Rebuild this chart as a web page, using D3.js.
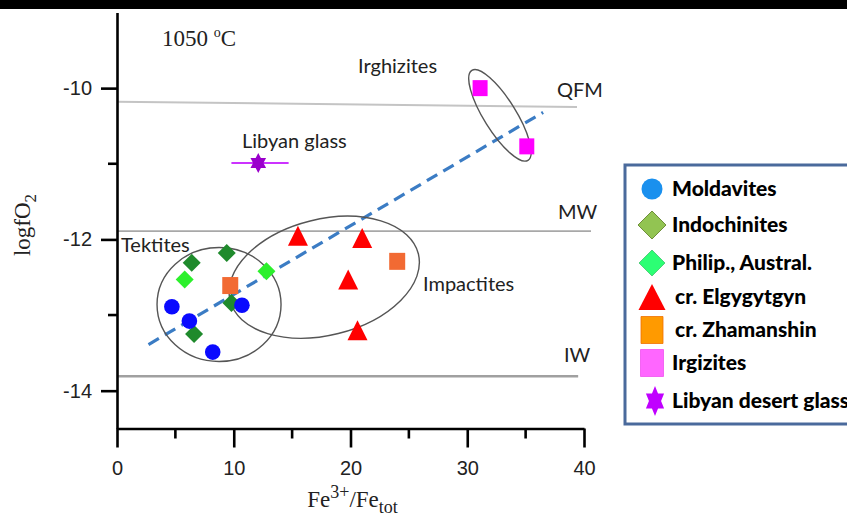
<!DOCTYPE html>
<html>
<head>
<meta charset="utf-8">
<script src="https://cdn.jsdelivr.net/npm/d3@7"></script>
<style>
  body { margin: 0; background: #fff; }
  svg { display: block; }
</style>
</head>
<body>
<svg id="chart" width="847" height="519"></svg>
<script>
// data: [Fe3+/Fetot, logfO2]
const moldavites = [[4.7, -12.89], [6.2, -13.08], [8.2, -13.49], [10.7, -12.87]];
const indochinites = [[6.4, -12.31], [9.4, -12.18], [9.8, -12.84], [6.6, -13.25]];
const philipAustral = [[5.8, -12.53], [12.8, -12.42]];
const elgygytgyn = [[15.5, -11.95], [21.0, -11.98], [19.8, -12.53], [20.6, -13.2]];
const zhamanshin = [[9.7, -12.61], [24.0, -12.29]];
const irgizites = [[31.1, -10.0], [35.1, -10.77]];
// [x, y, xmin, xmax]
const libyanGlass = [[12.1, -10.99, 9.8, 14.7]];

// buffer lines: name, x1, y1, x2, y2
const bufferLines = [
  { name: "QFM", x1: 0, y1: -10.18, x2: 39.4, y2: -10.25, color: "#c4c4c4", w: 2 },
  { name: "MW", x1: 0, y1: -11.89, x2: 40.6, y2: -11.89, color: "#a8a8a8", w: 1.6 },
  { name: "IW", x1: 0, y1: -13.81, x2: 39.5, y2: -13.81, color: "#a0a0a0", w: 2.4 }
];
const trendLine = [[2.7, -13.39], [36.5, -10.32]];

const xTicks = [0, 10, 20, 30, 40];
const xMinor = [5, 15, 25, 35];
const yTicks = [-10, -12, -14];
const yMinor = [-11, -13];

const legendNames = ["Moldavites", "Indochinites", "Philip., Austral.", "cr. Elgygytgyn",
  "cr. Zhamanshin", "Irgizites", "Libyan desert glass"];

const svg = d3.select("#chart");

// black band on top
svg.append("rect").attr("x", 0).attr("y", 0).attr("width", 847).attr("height", 9).attr("fill", "#000");

const x = d3.scaleLinear().domain([0, 40]).range([117, 584]);
const y = d3.scaleLinear().domain([-14.5, -9]).range([428.5, 12.5]);

// reference lines
bufferLines.forEach(l => {
  svg.append("line")
    .attr("x1", x(l.x1)).attr("y1", y(l.y1))
    .attr("x2", x(l.x2)).attr("y2", y(l.y2))
    .attr("stroke", l.color).attr("stroke-width", l.w);
});

// trend line
svg.append("line")
  .attr("x1", x(trendLine[0][0])).attr("y1", y(trendLine[0][1]))
  .attr("x2", x(trendLine[1][0])).attr("y2", y(trendLine[1][1]))
  .attr("stroke", "#3b7cc4").attr("stroke-width", 3.2)
  .attr("stroke-dasharray", "12,7");

// group ellipses (center in data units, radii in px, rotation deg)
const ellipses = [
  { cx: 8.74, cy: -12.86, rx: 62, ry: 57, rot: 0 },
  { cx: 17.75, cy: -12.5, rx: 97, ry: 58, rot: -14 },
  { cx: 32.8, cy: -10.36, rx: 53, ry: 16, rot: 58 }
];
ellipses.forEach(e => {
  svg.append("ellipse")
    .attr("transform", `translate(${x(e.cx)},${y(e.cy)}) rotate(${e.rot})`)
    .attr("rx", e.rx).attr("ry", e.ry)
    .attr("fill", "none").attr("stroke", "#555").attr("stroke-width", 1.4);
});

// shapes
function diamond(r) { return `M0,${-r}L${r},0L0,${r}L${-r},0Z`; }
function triangle(w, h) { return `M0,${-h / 2}L${w / 2},${h / 2}L${-w / 2},${h / 2}Z`; }
function square(w, h) { return `M${-w / 2},${-h / 2}h${w}v${h}h${-w}Z`; }
function hexagram(R, sx) {
  const r = R / Math.sqrt(3);
  const pts = [];
  for (let k = 0; k < 12; k++) {
    const a = (-90 + k * 30) * Math.PI / 180;
    const rr = k % 2 === 0 ? R : r;
    pts.push([Math.cos(a) * rr * sx, Math.sin(a) * rr]);
  }
  return "M" + pts.map(p => p.join(",")).join("L") + "Z";
}

function plotSet(data, d, fill, stroke) {
  svg.append("g").selectAll("path").data(data).join("path")
    .attr("transform", p => `translate(${x(p[0])},${y(p[1])})`)
    .attr("d", d)
    .attr("fill", fill)
    .attr("stroke", stroke || "none");
}

// libyan glass error bar + star
svg.append("g").selectAll("line").data(libyanGlass).join("line")
  .attr("x1", p => x(p[2])).attr("x2", p => x(p[3]))
  .attr("y1", p => y(p[1])).attr("y2", p => y(p[1]))
  .attr("stroke", "#cc33ff").attr("stroke-width", 2);
plotSet(libyanGlass, hexagram(10, 0.9), "#9a00cc");

plotSet(zhamanshin, square(16, 17), "#f26a33");
plotSet(indochinites, diamond(9), "#1f8a2c");
plotSet(philipAustral, diamond(9), "#2cf02c");
svg.append("g").selectAll("circle").data(moldavites).join("circle")
  .attr("cx", p => x(p[0])).attr("cy", p => y(p[1])).attr("r", 7.8)
  .attr("fill", "#0a0aff");
plotSet(elgygytgyn, triangle(20, 20), "#ff0000");
plotSet(irgizites, square(15, 16), "#ff00ff");

// axes
const xAxis = svg.append("g")
  .attr("transform", `translate(0,${y(-14.5)})`)
  .call(d3.axisBottom(x).tickValues(xTicks).tickSize(19).tickSizeOuter(0).tickPadding(13));
xAxis.append("g").selectAll("line").data(xMinor).join("line")
  .attr("x1", d => x(d)).attr("x2", d => x(d)).attr("y1", 0).attr("y2", 10);

const yAxis = svg.append("g")
  .attr("transform", `translate(${x(0)},0)`)
  .call(d3.axisLeft(y).tickValues(yTicks).tickSize(16).tickSizeOuter(0).tickPadding(9)
    .tickFormat(d => (d < 0 ? "-" : "") + Math.abs(d)));
yAxis.append("g").selectAll("line").data(yMinor).join("line")
  .attr("y1", d => y(d)).attr("y2", d => y(d)).attr("x1", 0).attr("x2", -9);

[xAxis, yAxis].forEach(a => {
  a.selectAll("path, line").attr("stroke", "#000").attr("stroke-width", 2.6);
  a.selectAll("text").attr("fill", "#222")
    .style("font-family", "'Liberation Sans', Arial, sans-serif").style("font-size", "20px");
});

// axis titles
svg.append("text")
  .attr("x", x(20) + 2).attr("y", 507)
  .attr("text-anchor", "middle")
  .style("font-family", "'Liberation Serif', serif").style("font-size", "23px").attr("fill", "#222")
  .html('Fe<tspan dy="-9" font-size="18">3+</tspan><tspan dy="9">/Fe</tspan><tspan dy="6" font-size="18">tot</tspan>');

svg.append("text")
  .attr("transform", `translate(30,225) rotate(-90)`)
  .attr("text-anchor", "middle")
  .style("font-family", "'Liberation Serif', serif").style("font-size", "23px").attr("fill", "#222")
  .html('logfO<tspan dy="6" font-size="17">2</tspan>');

svg.append("text")
  .attr("x", 162).attr("y", 46)
  .style("font-family", "'Liberation Serif', serif").style("font-size", "23px").attr("fill", "#222")
  .html('1050 <tspan dy="-9" font-size="14">o</tspan><tspan dy="9">C</tspan>');

// annotations
const notes = [
  { t: "Irghizites", x: 358, y: 73 },
  { t: "Libyan glass", x: 242, y: 148 },
  { t: "Tektites", x: 121, y: 252 },
  { t: "Impactites", x: 423, y: 291 },
  { t: "QFM", x: 557, y: 97 },
  { t: "MW", x: 558, y: 219 },
  { t: "IW", x: 564, y: 362 }
];
svg.append("g").selectAll("text").data(notes).join("text")
  .attr("x", d => d.x).attr("y", d => d.y)
  .style("font-family", "Lato, 'Open Sans', sans-serif").style("font-size", "20px")
  .attr("fill", "#222")
  .text(d => d.t);

// legend
svg.append("rect")
  .attr("x", 625).attr("y", 165).attr("width", 240).attr("height", 259)
  .attr("fill", "#fff").attr("stroke", "#4a6a9c").attr("stroke-width", 3);

const legendRows = [189, 225, 263, 297, 330, 363, 401];
const lg = svg.append("g");
lg.append("circle").attr("cx", 652).attr("cy", legendRows[0]).attr("r", 10.5).attr("fill", "#1a90ee");
lg.append("path").attr("transform", `translate(652,${legendRows[1]})`).attr("d", diamond(14))
  .attr("fill", "#92c452").attr("stroke", "#6f8f3a");
lg.append("path").attr("transform", `translate(652,${legendRows[2]})`).attr("d", diamond(13))
  .attr("fill", "#2cff74").attr("stroke", "#22b050").attr("stroke-width", 0.6);
lg.append("path").attr("transform", `translate(652,${legendRows[3]})`).attr("d", triangle(27, 26))
  .attr("fill", "#ff0000");
lg.append("path").attr("transform", `translate(652,${legendRows[4]})`).attr("d", square(22, 27))
  .attr("fill", "#ff9a00").attr("stroke", "#f07000").attr("stroke-width", 0.8);
lg.append("path").attr("transform", `translate(652,${legendRows[5]})`).attr("d", square(23, 27))
  .attr("fill", "#ff66ff").attr("stroke", "#f050f0").attr("stroke-width", 0.8);
lg.append("path").attr("transform", `translate(655,${legendRows[6]})`).attr("d", hexagram(15, 0.7))
  .attr("fill", "#c000ff");

lg.selectAll("text").data(legendNames).join("text")
  .attr("x", (d, i) => i >= 3 && i <= 4 ? 675 : 672)
  .attr("y", (d, i) => legendRows[i])
  .attr("dy", "0.35em")
  .style("font-family", "Lato, 'Open Sans', sans-serif").style("font-size", "21px")
  .style("font-weight", "900")
  .attr("fill", "#000")
  .text(d => d);
</script>
</body>
</html>
